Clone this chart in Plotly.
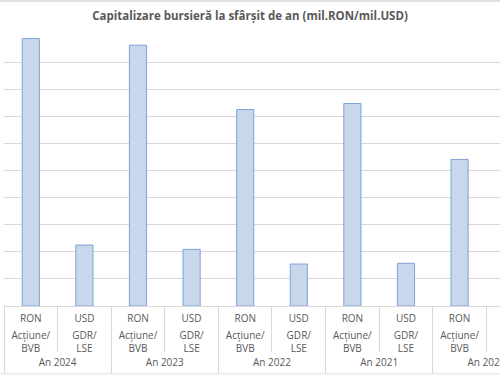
import plotly.graph_objects as go

years = ["An 2024", "An 2023", "An 2022", "An 2021", "An 2020"]
currency = ["RON", "USD"]
instrument = ["Acțiune/<br>BVB", "GDR/<br>LSE"]
ron_values = [296300, 289000, 217700, 224400, 162400]
usd_values = [67500, 62800, 46500, 47300, None]

# flatten into category order: year -> (RON, USD)
cur_labels, ins_labels, values = [], [], []
for i, y in enumerate(years):
    cur_labels += [currency[0], currency[1]]
    ins_labels += [instrument[0], instrument[1]]
    values += [ron_values[i], usd_values[i]]
xpos = list(range(len(values)))
year_pos = [2 * i + 0.5 for i in range(len(years))]
cat_bounds = [i - 0.5 for i in range(len(values) + 1)]
year_bounds = [2 * i - 0.5 for i in range(len(years) + 1)]

xr = [-0.5, 8.754]
grey = "#595959"
line = "#d9d9d9"
font = "Open Sans"
tf = dict(family=font, size=10, color=grey)

fig = go.Figure()
fig.add_trace(go.Bar(
    x=xpos, y=values, width=0.32,
    marker=dict(color="#c9d7ed", line=dict(color="#7fa2d4", width=1)),
    hoverinfo="skip", showlegend=False,
))
for ax, pos in (("x2", year_pos), ("x3", xpos)):
    fig.add_trace(go.Scatter(x=pos, y=[0] * len(pos), xaxis=ax,
                             mode="markers", marker=dict(opacity=0),
                             showlegend=False, hoverinfo="skip"))

common = dict(range=xr, showgrid=False, zeroline=False, automargin=False,
              tickmode="array", ticks="", ticklabeloverflow="allow", tickfont=tf)

fig.update_layout(
    width=500, height=375,
    margin=dict(l=4, r=0, t=35, b=69),
    paper_bgcolor="white", plot_bgcolor="white",
    title=dict(text="Capitalizare bursieră la sfârșit de an (mil.RON/mil.USD)",
               x=0.5, xanchor="center", y=1 - 16 / 375, yanchor="middle",
               font=dict(family=font, size=11.5, color=grey, weight="bold")),
    xaxis=dict(
        **common, tickvals=xpos, ticktext=cur_labels,
        showline=True, linecolor=line, linewidth=1,
        ticklabelstandoff=3,
        minor=dict(tickmode="array", tickvals=cat_bounds, ticks="outside",
                   ticklen=45, tickcolor=line, tickwidth=1, showgrid=False),
    ),
    xaxis3=dict(
        **common, overlaying="x", anchor="y", side="bottom",
        tickvals=xpos, ticktext=ins_labels, showline=False,
        ticklabelstandoff=22,
    ),
    xaxis2=dict(
        **common, overlaying="x", anchor="y", side="bottom",
        tickvals=year_pos, ticktext=years, showline=False,
        ticklabelstandoff=49,
        minor=dict(tickmode="array", tickvals=year_bounds, ticks="outside",
                   ticklen=66, tickcolor=line, tickwidth=1, showgrid=False),
    ),
    yaxis=dict(
        range=[0, 300300], dtick=30000, showticklabels=False, automargin=False,
        showgrid=True, gridcolor=line, gridwidth=1, zeroline=False,
        showline=False, ticks="",
    ),
    shapes=[
        dict(type="rect", xref="paper", yref="paper", x0=-0.02, x1=1.02,
             y0=-0.2546, y1=-0.246, fillcolor="#efefef", line=dict(width=0),
             layer="below"),
        dict(type="rect", xref="paper", yref="paper", x0=-0.02, x1=1.02,
             y0=1.1218, y1=1.13, fillcolor="#e3e3e3", line=dict(width=0),
             layer="below"),
    ],
)

fig.write_html("out.html",
               config={"displayModeBar": False, "staticPlot": True},
               post_script="document.body.style.margin='0';"
                           "document.body.style.overflow='hidden';")
